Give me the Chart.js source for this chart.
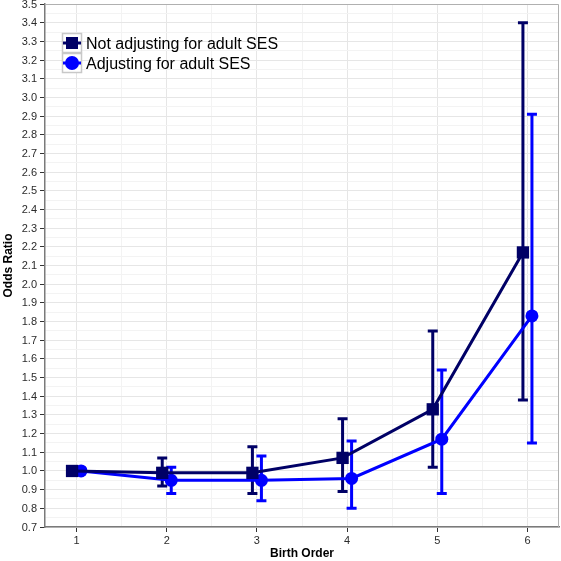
<!DOCTYPE html>
<html>
<head>
<meta charset="utf-8">
<script src="https://cdn.jsdelivr.net/npm/chart.js@4"></script>
<style>
  html, body { margin: 0; padding: 0; background: #fff; }
  #wrap { width: 561px; height: 561px; }
</style>
</head>
<body>
<div id="wrap"><canvas id="orChart" width="561" height="561"></canvas></div>
<script>
// Birth order categories and odds ratios (with 95% CI)
const birthOrder = [1, 2, 3, 4, 5, 6];
const notAdjOR = [1.00, 0.99, 0.99, 1.07, 1.33, 2.17];
const notAdjLo = [1.00, 0.92, 0.88, 0.89, 1.02, 1.38];
const notAdjHi = [1.00, 1.07, 1.13, 1.28, 1.75, 3.40];
const adjOR = [1.00, 0.95, 0.95, 0.96, 1.17, 1.83];
const adjLo = [1.00, 0.88, 0.84, 0.80, 0.88, 1.15];
const adjHi = [1.00, 1.02, 1.08, 1.16, 1.54, 2.91];
const seriesNames = ['Not adjusting for adult SES', 'Adjusting for adult SES'];

const NAVY = '#000066';
const BLUE = '#0000ff';
const dodge = 0.05;
const FONT = '"Liberation Sans", Arial, sans-serif';

function isMult(v, step) {
    const r = v / step;
    return Math.abs(r - Math.round(r)) < 1e-6;
}

// error bars drawn from the lo/hi arrays via the chart's scales
const errorBars = {
    id: 'errorBars',
    beforeDatasetsDraw(chart) {
        const ctx = chart.ctx;
        const xs = chart.scales.x, ys = chart.scales.y;
        chart.data.datasets.forEach(ds => {
            ctx.save();
            ctx.strokeStyle = ds.borderColor;
            ctx.lineWidth = 3;
            ds.data.forEach((p, i) => {
                const lo = ds.errLo[i], hi = ds.errHi[i];
                if (lo === hi) return;
                const px = xs.getPixelForValue(p.x);
                const y1 = ys.getPixelForValue(lo), y2 = ys.getPixelForValue(hi);
                ctx.beginPath();
                ctx.moveTo(px, y1); ctx.lineTo(px, y2);
                ctx.moveTo(px - 5, y1); ctx.lineTo(px + 5, y1);
                ctx.moveTo(px - 5, y2); ctx.lineTo(px + 5, y2);
                ctx.stroke();
            });
            ctx.restore();
        });
    }
};

// tick labels, panel border, legend
const panelAndLegend = {
    id: 'panelAndLegend',
    afterDraw(chart) {
        const ctx = chart.ctx;
        const a = chart.chartArea;
        const xs = chart.scales.x, ys = chart.scales.y;
        ctx.save();

        ctx.fillStyle = '#2b2b2b';
        ctx.font = '11px ' + FONT;
        ctx.textAlign = 'right';
        ctx.textBaseline = 'middle';
        ys.ticks.forEach(t => {
            if (!isMult(t.value, 0.1)) return;
            ctx.fillText(t.value.toFixed(1), a.left - 8, ys.getPixelForValue(t.value) + 0.5);
        });
        ctx.textAlign = 'center';
        ctx.textBaseline = 'top';
        xs.ticks.forEach(t => {
            if (!isMult(t.value, 1)) return;
            ctx.fillText(String(Math.round(t.value)), xs.getPixelForValue(t.value), a.bottom + 8);
        });

        ctx.strokeStyle = '#b0b0b0';
        ctx.lineWidth = 1;
        ctx.beginPath();
        ctx.moveTo(a.left, a.top + 0.5); ctx.lineTo(a.right - 0.5, a.top + 0.5);
        ctx.lineTo(a.right - 0.5, a.bottom);
        ctx.stroke();

        const kx = 62, ky = 33, kw = 20, kh = 20;
        chart.data.datasets.forEach((ds, i) => {
            const y0 = ky + i * kh;
            ctx.fillStyle = '#ffffff';
            ctx.fillRect(kx, y0, kw, kh);
            ctx.strokeStyle = '#c8c8c8';
            ctx.lineWidth = 1.5;
            ctx.strokeRect(kx + 0.5, y0 + 0.5, kw - 1, kh - 1);
            const cx = kx + kw / 2, cy = y0 + kh / 2;
            ctx.strokeStyle = ds.borderColor;
            ctx.lineWidth = 3;
            ctx.beginPath(); ctx.moveTo(kx + 1, cy); ctx.lineTo(kx + kw - 1, cy); ctx.stroke();
            ctx.fillStyle = ds.borderColor;
            if (ds.pointStyle === 'rect') {
                ctx.fillRect(cx - 6, cy - 6, 12, 12);
            } else {
                ctx.beginPath(); ctx.arc(cx, cy, 7, 0, Math.PI * 2); ctx.fill();
            }
            ctx.fillStyle = '#000';
            ctx.font = '16px ' + FONT;
            ctx.textAlign = 'left';
            ctx.textBaseline = 'middle';
            ctx.fillText(ds.label, kx + kw + 4, cy + 1.5);
        });
        ctx.restore();
    }
};

const ctx = document.getElementById('orChart').getContext('2d');
const orChart = new Chart(ctx, {
    type: 'line',
    data: {
        datasets: [{
            label: seriesNames[0],
            data: birthOrder.map((b, i) => ({ x: b - dodge, y: notAdjOR[i] })),
            errLo: notAdjLo,
            errHi: notAdjHi,
            borderColor: NAVY,
            backgroundColor: NAVY,
            borderWidth: 3,
            pointStyle: 'rect',
            pointRadius: 8.7,
            pointBorderWidth: 0,
            tension: 0
        }, {
            label: seriesNames[1],
            data: birthOrder.map((b, i) => ({ x: b + dodge, y: adjOR[i] })),
            errLo: adjLo,
            errHi: adjHi,
            borderColor: BLUE,
            backgroundColor: BLUE,
            borderWidth: 3,
            pointStyle: 'circle',
            pointRadius: 6.5,
            pointBorderWidth: 0,
            tension: 0
        }]
    },
    options: {
        responsive: false,
        animation: false,
        layout: { autoPadding: false, padding: { top: 4, right: 2, left: 0, bottom: 0 } },
        plugins: {
            legend: { display: false },
            tooltip: { enabled: false }
        },
        scales: {
            x: {
                type: 'linear',
                min: 0.65,
                max: 6.35,
                afterFit(scale) { scale.height = 34; },
                border: { color: '#7a7a7a', width: 1.5 },
                grid: {
                    color: c => isMult(c.tick.value, 1) ? '#e6e6e6' : (isMult(c.tick.value, 0.5) ? '#f3f3f3' : 'transparent'),
                    tickColor: c => isMult(c.tick.value, 1) ? '#333' : 'transparent',
                    tickLength: 5,
                    lineWidth: 1
                },
                ticks: {
                    display: false,
                    stepSize: 0.5,
                    includeBounds: false,
                    autoSkip: false
                },
                title: {
                    display: true,
                    text: 'Birth Order',
                    color: '#000',
                    padding: { top: 3, bottom: 0 },
                    font: { family: FONT, size: 12, weight: 'bold' }
                }
            },
            y: {
                min: 0.7,
                max: 3.5,
                afterFit(scale) { scale.width = 45; },
                border: { color: '#7a7a7a', width: 1.5 },
                grid: {
                    color: c => isMult(c.tick.value, 0.1) ? '#e6e6e6' : '#f3f3f3',
                    tickColor: c => isMult(c.tick.value, 0.1) ? '#333' : 'transparent',
                    tickLength: 5,
                    lineWidth: 1
                },
                ticks: {
                    display: false,
                    stepSize: 0.05,
                    autoSkip: false
                },
                title: {
                    display: true,
                    text: 'Odds Ratio',
                    color: '#000',
                    padding: { top: 1, bottom: 2 },
                    font: { family: FONT, size: 12, weight: 'bold' }
                }
            }
        }
    },
    plugins: [errorBars, panelAndLegend]
});
</script>
</body>
</html>
